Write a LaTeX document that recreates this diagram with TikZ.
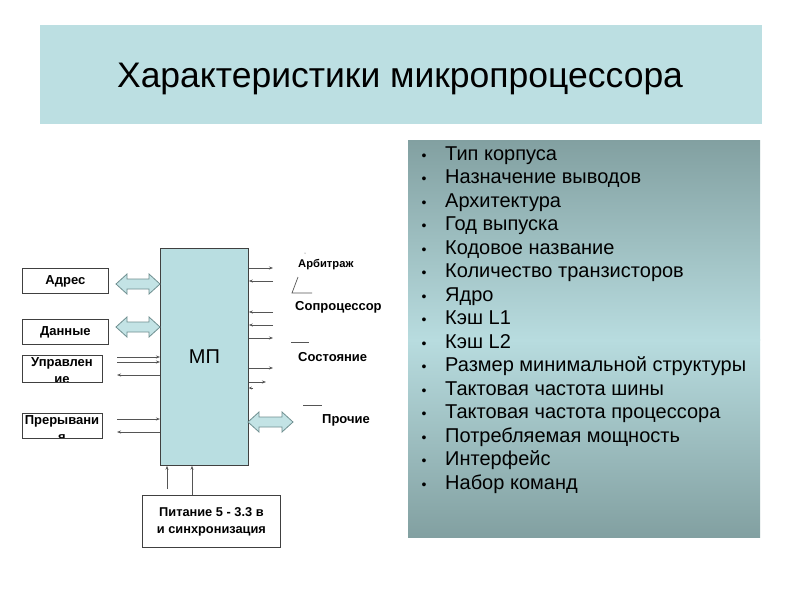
\documentclass[tikz,border=0pt]{standalone}
\usepackage{fontspec}
\setmainfont{Liberation Sans}
\usetikzlibrary{arrows.meta}
\definecolor{tealbg}{HTML}{BCDFE2}
\definecolor{mpfill}{HTML}{B9DEE1}
\definecolor{pdark}{HTML}{82A0A1}
\definecolor{plight}{HTML}{B8DCDF}
\definecolor{lineg}{HTML}{555555}
\definecolor{arrfill}{HTML}{C3E3E5}
\definecolor{arrdraw}{HTML}{6F8F90}
\definecolor{boxdraw}{HTML}{404040}
\begin{document}
\begin{tikzpicture}[x=1pt,y=-1pt,
  lblbox/.style={draw=boxdraw, line width=0.8pt, anchor=north west, inner sep=0pt},
  lbltext/.style={font=\fontsize{13}{16}\selectfont\bfseries, align=center, inner sep=0pt},
  sig/.style={draw=lineg, line width=0.7pt, -{Stealth[length=4pt,width=3pt]}},
  plain/.style={draw=lineg, line width=0.7pt},
  dbl/.style={fill=arrfill, draw=arrdraw, line width=0.8pt},
  itemtext/.style={anchor=base west, font=\fontsize{20}{22}\selectfont, inner sep=0pt},
  bul/.style={anchor=base, font=\fontsize{14}{15}\selectfont, inner sep=0pt},
]
\useasboundingbox (0,0) rectangle (800,600);
\fill[white] (0,0) rectangle (800,600);
% title
\node[fill=tealbg, minimum width=722pt, minimum height=99pt, anchor=north west, inner sep=0pt] (title) at (40,25) {};
\node[anchor=base, font=\fontsize{35.5}{38}\selectfont, inner sep=0pt] (titletext) at (400,87) {Характеристики микропроцессора};
% right panel
\shade[top color=pdark, bottom color=plight] (408,140) rectangle (760,340);
\shade[top color=plight, bottom color=pdark] (408,339.5) rectangle (760,537);
\foreach \t [count=\i from 0] in {Тип корпуса, Назначение выводов, Архитектура, Год выпуска, Кодовое название, Количество транзисторов, Ядро, Кэш L1, Кэш L2, Размер минимальной структуры, Тактовая частота шины, Тактовая частота процессора, Потребляемая мощность, Интерфейс, Набор команд}{
  \node[itemtext] (it\i) at (445,160+23.5*\i) {\t};
  \node[bul] (b\i) at (424,160+23.5*\i) {•};
}
% MP block
\node[draw=boxdraw, line width=0.8pt, fill=mpfill, minimum width=88pt, minimum height=217pt, anchor=north west, inner sep=0pt, font=\fontsize{20}{22}\selectfont] (mp) at (160,248) {МП};
% left label boxes
\node[lblbox, minimum width=86pt, minimum height=25pt] (adr) at (22,268) {};
\node[lbltext] (adrt) at (adr.center) {Адрес};
\node[lblbox, minimum width=86pt, minimum height=25pt] (dat) at (22,319) {};
\node[lbltext] (datt) at (dat.center) {Данные};
\begin{scope}
  \clip (22,355) rectangle (102,382);
  \node[lbltext, anchor=base] (uprt) at (62,366) {Управлен};
  \node[lbltext, anchor=base] (uprt2) at (62,383) {ие};
\end{scope}
\node[lblbox, minimum width=80pt, minimum height=27pt] (upr) at (22,355) {};
\begin{scope}
  \clip (22,413) rectangle (102,438);
  \node[lbltext, anchor=base] (prt) at (62,424) {Прерывани};
  \node[lbltext, anchor=base] (prt2) at (62,441) {я};
\end{scope}
\node[lblbox, minimum width=80pt, minimum height=25pt] (pr) at (22,413) {};
% double arrows (address, data)
\draw[dbl] (116,284) -- (127,274) -- (127,279) -- (149,279) -- (149,274) -- (160,284) -- (149,294) -- (149,289) -- (127,289) -- (127,294) -- cycle;
\draw[dbl] (116,327) -- (127,317) -- (127,322) -- (149,322) -- (149,317) -- (160,327) -- (149,337) -- (149,332) -- (127,332) -- (127,337) -- cycle;
% control lines
\coordinate (u1) at (117,357);
\coordinate (u2) at (117,362);
\coordinate (u3) at (117,375);
\coordinate (p1) at (117,419);
\coordinate (p2) at (117,432);
\draw[sig] (u1) -- (u1 -| mp.west);
\draw[sig] (u2) -- (u2 -| mp.west);
\draw[sig] (u3 -| mp.west) -- (u3);
\draw[sig] (p1) -- (p1 -| mp.west);
\draw[sig] (p2 -| mp.west) -- (p2);
% right side lines
\coordinate (r1) at (273,268);
\coordinate (r2) at (273,281);
\coordinate (r3) at (273,312);
\coordinate (r4) at (273,325);
\coordinate (r5) at (273,338);
\coordinate (r6) at (273,368);
\coordinate (r7) at (266,382);
\draw[sig] (r1 -| mp.east) -- (r1);
\draw[sig] (r2) -- (r2 -| mp.east);
\draw[sig] (r3) -- (r3 -| mp.east);
\draw[sig] (r4) -- (r4 -| mp.east);
\draw[sig] (r5 -| mp.east) -- (r5);
\draw[sig] (r6 -| mp.east) -- (r6);
\draw[sig] (r7 -| mp.east) -- (r7);
\coordinate (r8) at (253,388);
\draw[draw=lineg, line width=0.6pt, -{Stealth[length=3pt,width=3pt]}] (r8) -- (r8 -| mp.east);
% other double arrow
\draw[dbl] (248,422) -- (259,412) -- (259,417) -- (282,417) -- (282,412) -- (293,422) -- (282,432) -- (282,427) -- (259,427) -- (259,432) -- cycle;
% right labels
\node[font=\fontsize{11.2}{13}\selectfont\bfseries, anchor=west, inner sep=0pt] (arb) at (298,265) {Арбитраж};
\fill[lineg] (305,253) circle (0.5pt);
\draw[plain] (298,277) -- (292,293) -- (312,293);
\node[lbltext, anchor=west] (sop) at (295,307) {Сопроцессор};
\draw[plain] (291,342) -- (309,342);
\node[lbltext, anchor=west] (sos) at (298,357) {Состояние};
\draw[plain] (303,405) -- (322,405);
\node[lbltext, anchor=west] (pro) at (322,420) {Прочие};
% power box
\node[lblbox, minimum width=138pt, minimum height=52pt] (pow) at (142,495) {};
\node[lbltext, font=\fontsize{12.8}{17}\selectfont\bfseries] (powt) at (pow.center) {Питание 5 - 3.3 в\\и синхронизация};
\coordinate (v1) at (167,489);
\coordinate (v2) at (192,495);
\draw[sig] (v1) -- (v1 |- mp.south);
\draw[sig] (v2) -- (v2 |- mp.south);
\end{tikzpicture}
\end{document}
